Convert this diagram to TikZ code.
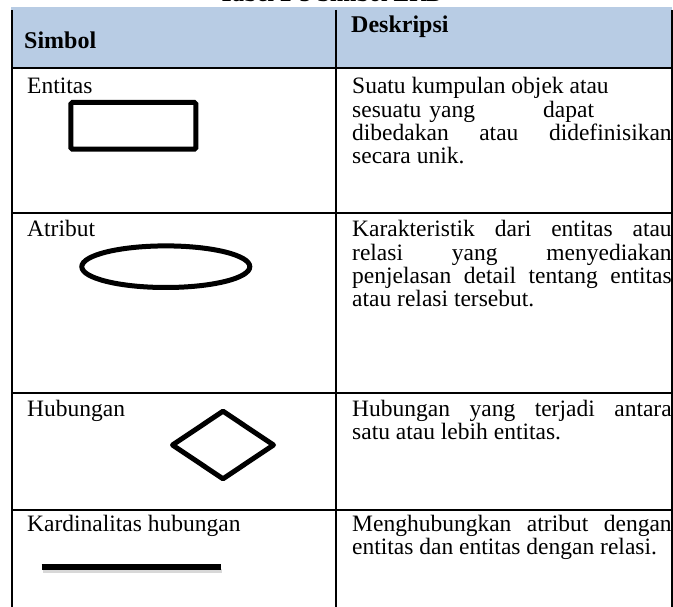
\documentclass[tikz,border=0pt]{standalone}
\usepackage{fontspec}
\setmainfont{Liberation Serif}
\definecolor{hdr}{HTML}{B8CCE4}
\tikzset{
  txt/.style={anchor=base west, inner sep=0pt, font=\fontsize{23.5}{23}\selectfont},
  hd/.style={txt, font=\fontsize{24}{23}\selectfont\bfseries},
  grid/.style={line width=2pt, black},
  sym/.style={line width=5pt, black}
}
\newcommand{\jl}[1]{\makebox[319.5pt][s]{#1}}
\begin{document}
\begin{tikzpicture}[x=1pt,y=-1pt]
\clip (0,0) rectangle (673,607);
% title (cut off at top)
\node[anchor=base, inner sep=0pt, font=\fontsize{23.5}{23}\selectfont\bfseries] (title) at (331,2) {Tabel 2-3 Simbol ERD};
% header band
\fill[hdr] (11,7) rectangle (672,68);
% grid
\draw[grid] (12,10) -- (12,607);
\draw[grid] (336,10) -- (336,607);
\draw[grid] (672,10) -- (672,607);
\draw[grid] (11,68) -- (673,68);
\draw[grid] (11,213) -- (673,213);
\draw[grid] (11,393) -- (673,393);
\draw[grid] (11,510) -- (673,510);
% header
\node[hd] (hs) at (24,49) {Simbol};
\node[hd] (hd) at (351,33) {Deskripsi};
% row 1
\node[txt] (l1) at (27,94) {Entitas};
\draw[sym, rounded corners=1.5pt] (70.8,102.5) rectangle (195.8,149.2);
\node[txt] (d1a) at (352,94) {Suatu kumpulan objek atau};
\node[txt] (d1b) at (352,117.3) {sesuatu\hspace{8pt}yang};
\node[txt] (d1c) at (543,117.3) {dapat};
\node[txt] (d1d) at (352,140.6) {\jl{dibedakan atau didefinisikan}};
\node[txt] (d1e) at (352,163.9) {secara unik.};
% row 2
\node[txt] (l2) at (27,237) {Atribut};
\draw[sym] (165.8,266.7) ellipse [x radius=84, y radius=20.8];
\node[txt] (d2a) at (352,237) {\jl{Karakteristik dari entitas atau}};
\node[txt] (d2b) at (352,260.3) {\jl{relasi yang menyediakan}};
\node[txt] (d2c) at (352,283.6) {\jl{penjelasan detail tentang entitas}};
\node[txt] (d2d) at (352,306.9) {atau relasi tersebut.};
% row 3
\node[txt] (l3) at (27,416) {Hubungan};
\draw[sym, line join=round] (172.5,445) -- (223,411.2) -- (273.5,445) -- (223,478.8) -- cycle;
\node[txt] (d3a) at (352,416) {\jl{Hubungan yang terjadi antara}};
\node[txt] (d3b) at (352,439.3) {satu atau lebih entitas.};
% row 4
\node[txt] (l4) at (27,531.5) {Kardinalitas hubungan};
\draw[line width=4pt, black!30, opacity=0.5] (43,571) -- (222,571);
\draw[line width=6pt, black] (41.7,567) -- (220.7,567);
\node[txt] (d4a) at (352,531.5) {\jl{Menghubungkan atribut dengan}};
\node[txt] (d4b) at (352,554.8) {entitas dan entitas dengan relasi.};
\end{tikzpicture}
\end{document}
